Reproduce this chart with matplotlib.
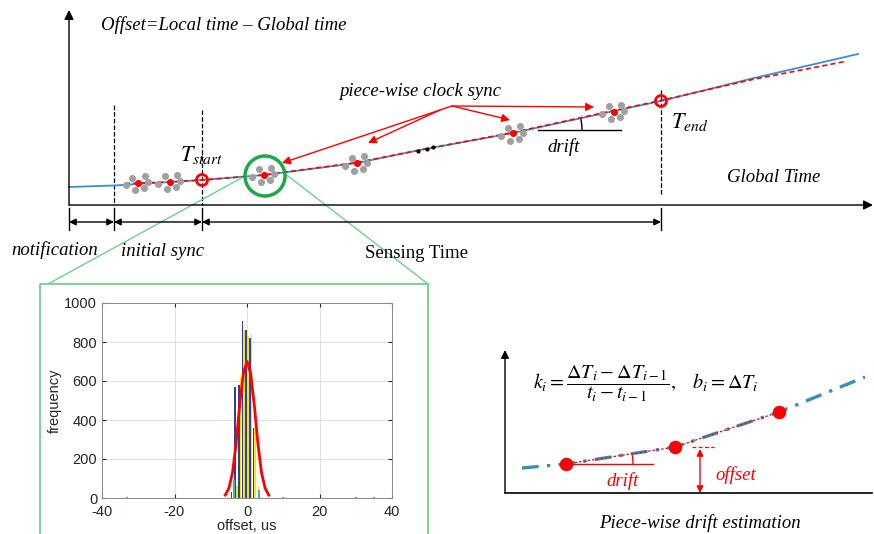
import matplotlib.pyplot as plt
import matplotlib.patches as mpatches
import numpy as np

plt.rcParams['font.family'] = ['Liberation Serif', 'DejaVu Serif']
plt.rcParams['mathtext.fontset'] = 'stix'
plt.rcParams['axes.unicode_minus'] = False

# ---- top sketch (figure pixel space, y grows downward) ----
curve_x = [69, 114, 170, 202, 264, 357, 420, 513, 614, 661, 750, 858]
curve_y = [187, 185.5, 182, 180, 175, 163, 150, 133, 111, 101, 79, 54]
fit_x = [125, 170, 202, 264, 357, 420, 513, 614, 661, 750, 845]
fit_y = [183.5, 182, 180, 175, 162.5, 150, 132.5, 110.5, 100.5, 80, 61.5]
sync_x = [137.7, 170, 264, 357, 513, 614]
sync_y = [183, 181.7, 174.7, 163.3, 133.3, 111.7]
# gray samples around each sync point
spread_dx = [-5.4, 7.3, 10.3, 6.3, -3, -11.7]
spread_dy = [-5.4, -7, -0.7, 5.3, 7.3, 2.3]
marks_x = [69, 114, 202, 661]          # notification / initial sync / sensing
phase_names = ["notification", "initial sync", "Sensing Time"]

# ---- histogram inset ----
bin_centers = [-4, -3, -2, -1, 0, 1, 2, 3, 4]
freq_a = [30, 570, 580, 910, 860, 820, 360, 0, 0]
freq_b = [0, 60, 620, 860, 830, 840, 360, 60, 0]
freq_c = [90, 0, 0, 0, 0, 0, 0, 40, 0]
tail_x = [-33, 10, 30, 35]
tail_y = [4, 4, 4, 4]
fit_off = [-6, -5, -4, -3, -2, -1, 0, 1, 2, 3, 4, 5, 6]
fit_freq = [15, 50, 130, 280, 480, 640, 700, 640, 480, 280, 130, 50, 15]

# ---- piece-wise drift sketch ----
est_x = [522, 566, 675, 779, 865]
est_y = [468, 464, 447, 412, 377]
knot_x = [566, 675, 779]
knot_y = [464, 447, 412]

fig = plt.figure(figsize=(8.74, 5.34), dpi=100)
ax = fig.add_axes([0, 0, 1, 1])
ax.set_xlim(0, 874)
ax.set_ylim(534, 0)
ax.axis('off')


def arrow(x0, y0, x1, y1, style='-|>', color='k', lw=1.0, ms=12):
    ax.annotate('', xy=(x1, y1), xytext=(x0, y0),
                arrowprops=dict(arrowstyle=style, color=color, lw=lw,
                                shrinkA=0, shrinkB=0, mutation_scale=ms))


# axes of the top sketch
arrow(69, 205, 69, 10, ms=14)
arrow(69, 205, 873, 205, ms=14)
ax.text(101, 25, "Offset=Local time \u2013 Global time", style='italic',
        fontsize=13.5, va='center')
ax.text(727, 178, "Global Time", style='italic', fontsize=13.5, va='center')

# dashed phase boundaries
ax.plot([114, 114], [105, 205], 'k--', lw=0.9)
ax.plot([202, 202], [110, 205], 'k--', lw=0.9)
ax.plot([661, 661], [90, 195], 'k--', lw=0.9)

# offset curve and piece-wise fit
ax.plot(curve_x, curve_y, color='#3a8ed6', lw=1.3)
ax.plot(fit_x, fit_y, color='red', lw=1.2, ls=(0, (3, 2)))

for sx, sy in zip(sync_x, sync_y):
    ax.scatter(np.array(spread_dx) + sx, np.array(spread_dy) + sy,
               s=26, color='#a0a0a0', zorder=3, linewidths=0)
    ax.scatter([sx], [sy], s=26, color='red', zorder=4, linewidths=0)

ax.add_patch(mpatches.Circle((202, 180), 5.5, fill=False, ec='red', lw=2, zorder=5))
ax.add_patch(mpatches.Circle((661, 101), 5.5, fill=False, ec='red', lw=2, zorder=5))
ax.text(180, 155, r"$T_{start}$", fontsize=16, va='center')
ax.text(671, 122, r"$T_{end}$", fontsize=16, va='center')

ax.scatter([418, 426.7, 433], [150.7, 149, 146.7], s=4, color='k', zorder=5)

# drift angle
ax.plot([538, 621], [130, 130], color='k', lw=1)
ax.add_patch(mpatches.Arc((530, 130), 104, 104, theta1=-13, theta2=0, color='k', lw=1))
ax.text(547, 147, "drift", style='italic', fontsize=13.5, va='center')

# piece-wise clock sync callouts
ax.text(339, 92, "piece-wise clock sync", style='italic', fontsize=13.5, va='center')
arrow(452, 106, 282, 163, color='red')
arrow(440, 110, 368, 143, color='red')
arrow(452, 106, 510, 120, color='red')
arrow(452, 106, 594, 107, color='red')

# phase bars below the axis
for mx in marks_x:
    ax.plot([mx, mx], [208, 230], color='k', lw=1)
arrow(69, 222, 114, 222, style='<|-|>', ms=10)
arrow(114, 222, 202, 222, style='<|-|>', ms=10)
arrow(202, 222, 661, 222, style='<|-|>', ms=10)
ax.text(11, 250, phase_names[0], style='italic', fontsize=13.5, va='center')
ax.text(121, 252, phase_names[1], style='italic', fontsize=13.5, va='center')
ax.text(365, 253, phase_names[2], fontsize=13.5, va='center')

# zoom callout
ax.add_patch(mpatches.Circle((265, 176), 20, fill=False, ec='#1ea84a', lw=2.5, zorder=6))
zoom_c = '#6fd08c'
ax.plot([242, 48], [177.7, 284], color=zoom_c, lw=1)
ax.plot([286.7, 428], [175, 284], color=zoom_c, lw=1)
ax.plot([40, 40, 428, 428], [540, 284, 284, 540], color=zoom_c, lw=1.3)

# piece-wise drift estimation sketch
arrow(505, 493, 505, 350, ms=12)
ax.plot([505, 872], [493, 493], color='k', lw=1.2)
ax.plot(est_x, est_y, color='#3a8fb7', lw=2.4, ls=(0, (5, 2.5, 1, 2.5)))
ax.plot(knot_x, knot_y, color='red', lw=0.9, ls=(0, (2, 1.5)))
ax.scatter(knot_x, knot_y, s=95, color='red', zorder=5, linewidths=0)
ax.plot([566, 653], [464, 464], color='red', lw=1)
ax.add_patch(mpatches.Arc((566, 464), 134, 134, theta1=-8.5, theta2=0, color='red', lw=1))
ax.text(606, 481, "drift", style='italic', color='red', fontsize=13.5, va='center')
arrow(700, 449, 700, 493, style='<|-|>', color='red', ms=10)
ax.plot([692, 714], [447, 447], color='red', lw=0.9, ls=(0, (3, 2)))
ax.text(715, 475, "offset", style='italic', color='red', fontsize=13.5, va='center')
ax.text(533, 384, r"$k_i=\dfrac{\Delta T_i-\Delta T_{i-1}}{t_i-t_{i-1}},\quad b_i=\Delta T_i$",
        fontsize=14.5, va='center')
ax.text(700, 523, "Piece-wise drift estimation", style='italic', fontsize=13.5,
        ha='center', va='center')

# histogram inset
hx = fig.add_axes([102 / 874, 1 - 498 / 534, 290 / 874, 195 / 534])
c = np.array(bin_centers, dtype=float)
hx.bar(c - 0.25, freq_a, width=0.45, color='#30409e', zorder=2)
hx.bar(c + 0.2, freq_b, width=0.45, color='#f4e41a', zorder=2)
hx.bar(c + 0.35, freq_c, width=0.45, color='#3fb3b8', zorder=2)
hx.bar(tail_x, tail_y, width=0.5, color='#3fb3b8', zorder=2)
hx.plot(fit_off, fit_freq, color='red', lw=2, zorder=3)
hx.set_xlim(-40, 40)
hx.set_ylim(0, 1000)
hx.set_xticks([-40, -20, 0, 20, 40])
hx.set_yticks(range(0, 1001, 200))
hx.grid(True, color='#e0e0e0', lw=0.7, zorder=0)
hx.tick_params(labelsize=10.5, colors='#262626', length=3, direction='in',
               top=True, right=True)
hx.tick_params(axis='x', pad=5)
for lab in hx.get_xticklabels() + hx.get_yticklabels():
    lab.set_family('Liberation Sans')
for sp in hx.spines.values():
    sp.set_color('#8a8a8a')
    sp.set_linewidth(0.7)
hx.set_xlabel("offset, us", fontsize=10.5, family='Liberation Sans', color='#262626', labelpad=0)
hx.set_ylabel("frequency", fontsize=10.5, family='Liberation Sans', color='#262626', labelpad=2)

fig.savefig("out.png", dpi=100)
